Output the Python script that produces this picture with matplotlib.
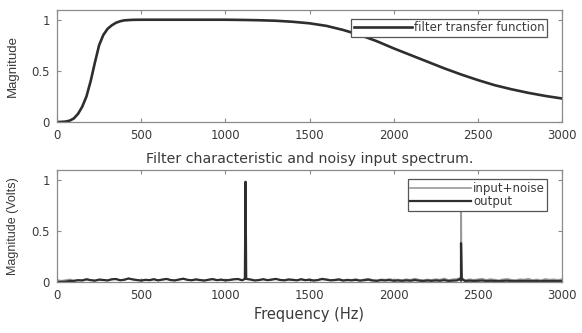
import numpy as np
import matplotlib
matplotlib.use("Agg")
import matplotlib.pyplot as plt

plt.rcParams['font.family'] = ['DejaVu Sans']

# ---------------- data ----------------
filter_freq = [0, 25, 50, 75, 100, 125, 150, 175, 200, 225, 250, 275, 300, 325, 350,
               375, 400, 450, 500, 600, 700, 800, 900, 1000, 1100, 1200, 1300, 1400,
               1500, 1600, 1700, 1800, 1900, 2000, 2100, 2200, 2300, 2400, 2500, 2600,
               2700, 2800, 2900, 3000]
filter_mag = [0.0, 0.001, 0.004, 0.013, 0.035, 0.08, 0.15, 0.25, 0.40, 0.58, 0.75,
              0.85, 0.91, 0.945, 0.97, 0.985, 0.994, 0.999, 1.0, 1.0, 1.0, 1.0, 1.0,
              1.0, 0.998, 0.995, 0.99, 0.98, 0.965, 0.94, 0.90, 0.85, 0.79, 0.72,
              0.655, 0.59, 0.525, 0.465, 0.41, 0.36, 0.32, 0.285, 0.255, 0.23]

noise_step_hz = 25
input_noise = [0.020, 0.012, 0.018, 0.025, 0.015, 0.022, 0.017, 0.028, 0.019, 0.014,
               0.024, 0.021, 0.016, 0.027, 0.030, 0.018, 0.023, 0.035, 0.026, 0.020,
               0.015, 0.022, 0.019, 0.028, 0.017, 0.024, 0.031, 0.020, 0.016, 0.025,
               0.033, 0.022, 0.018, 0.026, 0.020, 0.015, 0.023, 0.029, 0.019, 0.024,
               0.017, 0.021, 0.027, 0.030, 0.018, 0.022, 0.025, 0.016, 0.020, 0.028,
               0.019, 0.024, 0.032, 0.021, 0.017, 0.026, 0.023, 0.018, 0.029, 0.020,
               0.025, 0.016, 0.022, 0.034, 0.027, 0.019, 0.023, 0.030, 0.018, 0.024,
               0.021, 0.028, 0.017, 0.025, 0.032, 0.020, 0.016, 0.026, 0.022, 0.029,
               0.019, 0.024, 0.018, 0.027, 0.021, 0.033, 0.023, 0.017, 0.025, 0.020,
               0.028, 0.022, 0.035, 0.019, 0.026, 0.030, 0.024, 0.018, 0.027, 0.021,
               0.025, 0.032, 0.020, 0.028, 0.023, 0.017, 0.026, 0.030, 0.022, 0.019,
               0.027, 0.024, 0.031, 0.020, 0.025, 0.018, 0.029, 0.023, 0.026, 0.021,
               0.028]
output_noise = [0.000, 0.001, 0.003, 0.010, 0.010, 0.017, 0.015, 0.026, 0.018, 0.013,
                0.023, 0.020, 0.015, 0.026, 0.029, 0.017, 0.022, 0.034, 0.025, 0.019,
                0.014, 0.021, 0.018, 0.027, 0.016, 0.023, 0.030, 0.019, 0.015, 0.024,
                0.032, 0.021, 0.017, 0.025, 0.019, 0.014, 0.022, 0.028, 0.018, 0.023,
                0.016, 0.020, 0.026, 0.029, 0.017, 0.021, 0.024, 0.015, 0.019, 0.027,
                0.018, 0.023, 0.030, 0.020, 0.016, 0.024, 0.021, 0.016, 0.026, 0.018,
                0.022, 0.014, 0.019, 0.029, 0.023, 0.016, 0.019, 0.024, 0.014, 0.019,
                0.016, 0.021, 0.013, 0.018, 0.023, 0.014, 0.011, 0.018, 0.015, 0.019,
                0.012, 0.015, 0.011, 0.016, 0.012, 0.019, 0.013, 0.010, 0.014, 0.011,
                0.015, 0.012, 0.018, 0.010, 0.013, 0.015, 0.012, 0.009, 0.013, 0.010,
                0.012, 0.015, 0.009, 0.012, 0.010, 0.008, 0.011, 0.013, 0.009, 0.008,
                0.011, 0.010, 0.012, 0.008, 0.010, 0.007, 0.011, 0.009, 0.010, 0.008,
                0.010]

# spectral peaks (frequency, magnitude)
input_peak_freq = [1116, 1120, 1124, 2396, 2400, 2404]
input_peak_mag = [0.03, 0.98, 0.03, 0.04, 0.98, 0.04]
output_peak_freq = [1116, 1120, 1124, 2396, 2400, 2404]
output_peak_mag = [0.03, 0.98, 0.03, 0.03, 0.38, 0.03]

x_ticks = [0, 500, 1000, 1500, 2000, 2500, 3000]
y_ticks = [0, 0.5, 1]
y_tick_labels = ['0', '0.5', '1']

# ---------------- helpers ----------------
def merge(freq_base, mag_base, pk_f, pk_m):
    f = list(freq_base) + list(pk_f)
    m = list(mag_base) + list(pk_m)
    order = np.argsort(f, kind='stable')
    f = np.array(f)[order]
    m = np.array(m)[order]
    keep = np.ones(len(f), bool)
    for pf in pk_f:
        for i, fv in enumerate(f):
            if abs(fv - pf) < 6 and fv not in pk_f:
                keep[i] = False
    return f[keep], m[keep]

noise_freq = [i * noise_step_hz for i in range(len(input_noise))]
in_f, in_m = merge(noise_freq, input_noise, input_peak_freq, input_peak_mag)
out_f, out_m = merge(noise_freq, output_noise, output_peak_freq, output_peak_mag)

# ---------------- figure ----------------
W, H = 582, 333
fig = plt.figure(figsize=(W / 100, H / 100), dpi=100)
ax1 = fig.add_axes([57 / W, 1 - 122 / H, 505 / W, 112.5 / H])
ax2 = fig.add_axes([57 / W, 1 - 282 / H, 505 / W, 112.5 / H])

spine_c = '#8a8a8a'
text_c = '#3a3a3a'
dark = '#2e2e2e'
light = '#9a9a9a'
narrow = ['Liberation Sans Narrow', 'Liberation Sans', 'DejaVu Sans']

def style(ax):
    ax.set_xlim(0, 3000)
    ax.set_ylim(0, 1.1)
    ax.set_xticks(x_ticks)
    ax.set_xticklabels([str(t) for t in x_ticks])
    ax.set_yticks(y_ticks)
    ax.set_yticklabels(y_tick_labels)
    ax.tick_params(direction='in', length=3, width=0.8, color=spine_c,
                   labelsize=8.5, labelcolor=text_c, top=True, right=True, pad=5)
    for s in ax.spines.values():
        s.set_color(spine_c)
        s.set_linewidth(0.9)

def make_legend(ax, anchor, hl, spacing):
    leg = ax.legend(loc='upper right', bbox_to_anchor=anchor, fontsize=8.5,
                    frameon=True, fancybox=False, edgecolor='#555555',
                    framealpha=1.0, borderpad=0.22, handlelength=hl,
                    handletextpad=0.2, labelspacing=spacing, borderaxespad=0)
    leg.get_frame().set_linewidth(0.9)
    for t in leg.get_texts():
        t.set_color(text_c)
    return leg

ax1.plot(filter_freq, filter_mag, color=dark, lw=1.9, label='filter transfer function')
style(ax1)
ax1.set_ylabel('Magnitude', fontsize=9.5, color=text_c, labelpad=9, family=narrow)
make_legend(ax1, (0.971, 0.92), 4.9, 0.1)

ax2.plot(in_f, in_m, color=light, lw=1.2, label='input+noise')
ax2.plot(out_f, out_m, color=dark, lw=1.6, label='output')
style(ax2)
ax2.set_ylabel('Magnitude (Volts)', fontsize=9, color=text_c, labelpad=9, family=narrow)
ax2.set_xlabel('Frequency (Hz)', fontsize=10.5, color=text_c, labelpad=4)
ax2.set_title('Filter characteristic and noisy input spectrum.', fontsize=10.2,
              color=text_c, pad=5)
make_legend(ax2, (0.971, 0.915), 5.1, 0.05)

fig.savefig('out.png', dpi=100)
